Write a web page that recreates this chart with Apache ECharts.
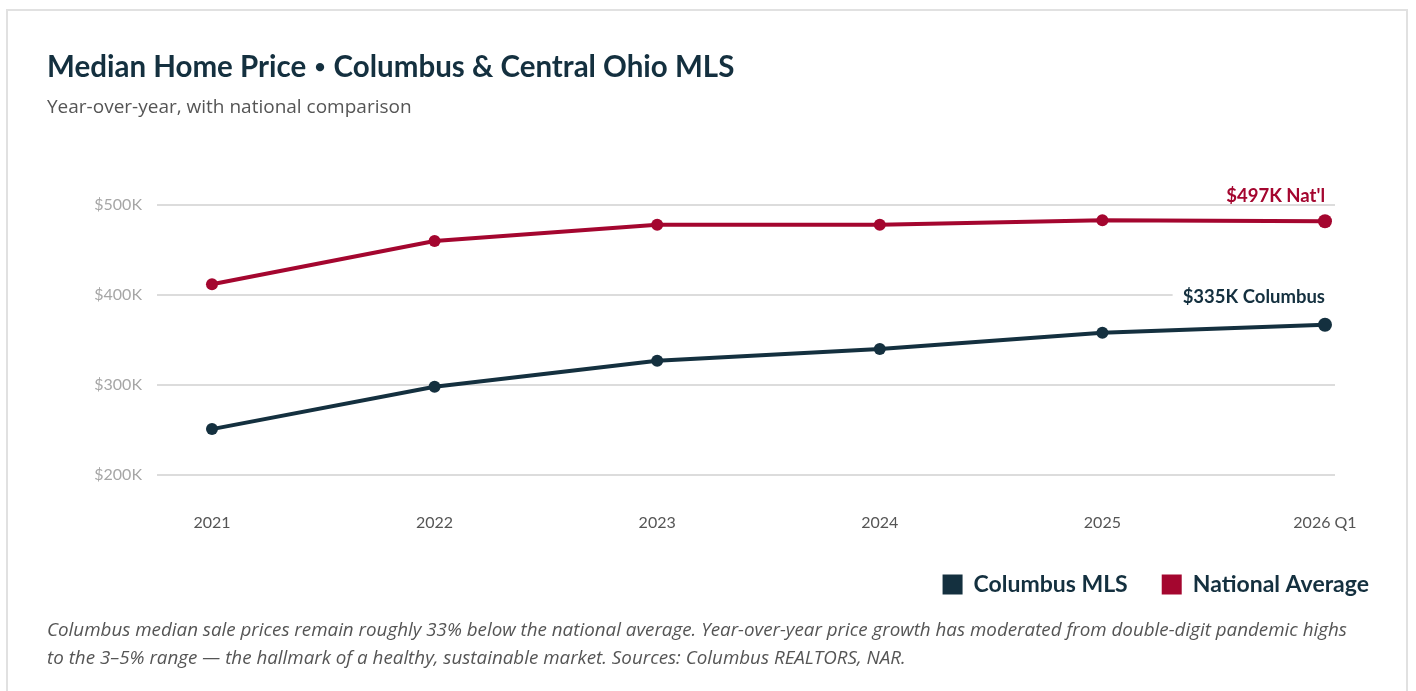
<!DOCTYPE html>
<html>
<head>
<meta charset="utf-8">
<script src="https://cdn.jsdelivr.net/npm/echarts@6/dist/echarts.min.js"></script>
<style>
  html, body { margin: 0; padding: 0; background: #fff; }
  #frame { position: absolute; left: 6px; top: 9px; width: 1402px; height: 720px; border: 2px solid #e1e1e1; box-sizing: border-box; }
  #chart { position: absolute; left: 0; top: 0; width: 1416px; height: 691px; }
</style>
</head>
<body>
<div id="frame"></div>
<div id="chart"></div>
<script>
// Periods shown along the x axis
const periods = ['2021', '2022', '2023', '2024', '2025', '2026 Q1'];
// Median sale price, thousands of dollars
const columbusMLS = [251, 298, 327, 340, 358, 367];
const nationalAvg = [412, 460, 478, 478, 483, 482];
// Y axis range and tick step, thousands of dollars
const yMin = 200, yMax = 500, yStep = 100;
// Callout text at the latest period
const nationalCallout = "$497K Nat'l";
const columbusCallout = '$335K Columbus';

const NAVY = '#14303f';
const RED = '#a4062f';
const FONT = 'Lato, "Noto Sans", sans-serif';
const BODY = '"Open Sans", Lato, sans-serif';

function seriesData(values, callout, dist, boxed) {
  return values.map((v, i) => {
    const pt = { value: [i, v] };
    if (i === values.length - 1) {
      pt.symbolSize = 14;
      pt.label = {
        show: true,
        formatter: callout,
        position: 'top',
        distance: dist,
        align: 'right',
        offset: boxed ? [10, 0] : [0, 0],
        fontFamily: FONT,
        fontWeight: 'bold',
        fontSize: 18.5,
        backgroundColor: boxed ? '#fff' : 'transparent',
        padding: boxed ? [2, 10, 2, 10] : 0
      };
    }
    return pt;
  });
}

const chart = echarts.init(document.getElementById('chart'), null, { renderer: 'canvas' });
chart.setOption({
  animation: false,
  textStyle: { fontFamily: FONT },
  graphic: [
    { type: 'text', left: 47, top: 52, style: {
        text: '{t|Median Home Price }{b|\u2022}{t| Columbus & Central Ohio MLS}',
        rich: {
          t: { fill: NAVY, fontFamily: FONT, fontWeight: 'bold', fontSize: 29.5 },
          b: { fill: NAVY, fontFamily: FONT, fontWeight: 'bold', fontSize: 19, padding: [0, 1, 0, 1] }
        } } },
    { type: 'text', left: 47, top: 98, style: { text: 'Year-over-year, with national comparison', fill: '#555', font: '19px ' + BODY } },
    { type: 'text', left: 47, top: 617, style: {
        text: 'Columbus median sale prices remain roughly 33% below the national average. Year-over-year price growth has moderated from double-digit pandemic highs\nto the 3\u20135% range \u2014 the hallmark of a healthy, sustainable market. Sources: Columbus REALTORS, NAR.',
        fill: '#555', font: 'italic 18.8px ' + BODY, lineHeight: 28 } }
  ],
  legend: {
    right: 42,
    top: 568,
    icon: 'rect',
    itemWidth: 20,
    itemHeight: 20,
    itemGap: 34,
    textStyle: { color: NAVY, fontWeight: 'bold', fontSize: 23, fontFamily: FONT, padding: [0, 0, 0, 6] },
    data: ['Columbus MLS', 'National Average']
  },
  grid: { left: 157, right: 81, top: 205, bottom: 216, containLabel: false },
  xAxis: {
    type: 'value',
    min: -0.247,
    max: 5.045,
    axisLine: { show: false },
    axisTick: { show: false },
    splitLine: { show: false },
    axisLabel: {
      customValues: periods.map((_, i) => i),
      formatter: v => periods[Math.round(v)],
      color: '#555',
      fontSize: 16,
      margin: 40,
      fontFamily: FONT
    }
  },
  yAxis: {
    type: 'value',
    min: yMin,
    max: yMax,
    interval: yStep,
    axisLine: { show: false },
    axisTick: { show: false },
    splitLine: { lineStyle: { color: '#dcdcdc', width: 2 } },
    axisLabel: { formatter: v => '$' + v + 'K', color: '#a6a6a6', fontSize: 16, margin: 15, fontFamily: FONT }
  },
  series: [
    {
      name: 'Columbus MLS',
      type: 'line',
      data: seriesData(columbusMLS, columbusCallout, 9, true),
      symbol: 'circle',
      symbolSize: 12,
      color: NAVY,
      lineStyle: { width: 4, color: NAVY },
      itemStyle: { color: NAVY },
      label: { color: NAVY },
      z: 3
    },
    {
      name: 'National Average',
      type: 'line',
      data: seriesData(nationalAvg, nationalCallout, 9, false),
      symbol: 'circle',
      symbolSize: 12,
      color: RED,
      lineStyle: { width: 4, color: RED },
      itemStyle: { color: RED },
      label: { color: RED },
      z: 3
    }
  ]
});
</script>
</body>
</html>
